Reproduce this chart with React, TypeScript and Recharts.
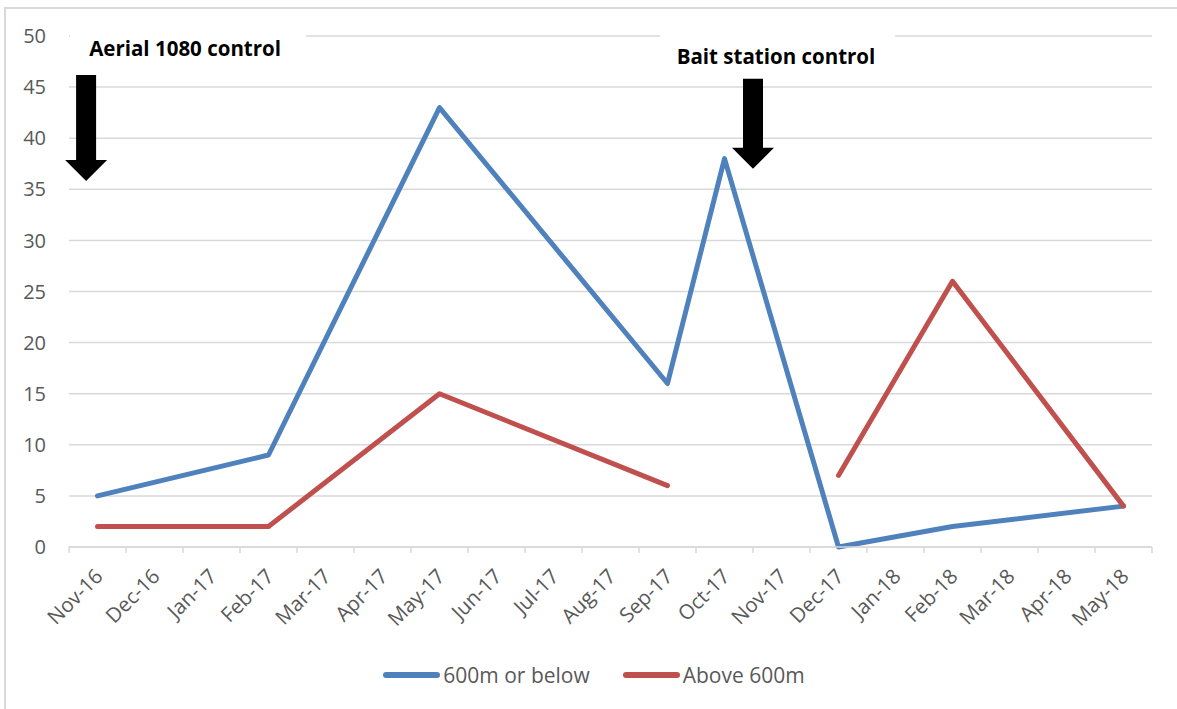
import React from "react";
import {
  CartesianGrid,
  Legend,
  Line,
  LineChart,
  ReferenceDot,
  XAxis,
  YAxis,
} from "recharts";

// Monthly categories along the date axis
const months = [
  "Nov-16", "Dec-16", "Jan-17", "Feb-17", "Mar-17", "Apr-17", "May-17",
  "Jun-17", "Jul-17", "Aug-17", "Sep-17", "Oct-17", "Nov-17", "Dec-17",
  "Jan-18", "Feb-18", "Mar-18", "Apr-18", "May-18",
];

// Survey months and counts per altitude band
const surveyMonths = ["Nov-16", "Feb-17", "May-17", "Sep-17", "Oct-17", "Dec-17", "Feb-18", "May-18"];
const below600 = [5, 9, 43, 16, 38, 0, 2, 4];
const above600: (number | null)[] = [2, 2, 15, 6, null, 7, 26, 4];

const yTicks = [0, 5, 10, 15, 20, 25, 30, 35, 40, 45, 50];

// Control operations, positioned in month units along the axis
const aerialControlAt = 0.3;
const baitControlAt = 12;

const BLUE = "#4f81bd";
const RED = "#c0504d";
const GRID = "#d9d9d9";
const TEXT = "#595959";
const FONT = "'Open Sans', sans-serif";

const data = surveyMonths.map((m, i) => ({
  pos: months.indexOf(m) + 0.5,
  below: below600[i],
  above: above600[i],
}));

const centerTicks = months.map((_, i) => i + 0.5);

// Label sits in the middle of each month; tick marks go on the month boundaries
function MonthTick(props: any) {
  const { x, y, payload, index, width } = props;
  const half = (width ?? 1083) / months.length / 2;
  const label = months[Math.floor(payload.value)];
  const ax = x + 1;
  const ay = y + 25;
  const isLast = index === months.length - 1;
  return (
    <g>
      <line x1={x - half} x2={x - half} y1={y} y2={y + 6} stroke={GRID} strokeWidth={1.5} />
      {isLast && <line x1={x + half} x2={x + half} y1={y} y2={y + 6} stroke={GRID} strokeWidth={1.5} />}
      <text
        x={ax}
        y={ay}
        transform={`rotate(-45, ${ax}, ${ay})`}
        textAnchor="end"
        dominantBaseline="central"
        fontFamily={FONT}
        fontSize={20.5}
        fill={TEXT}
      >
        {label}
      </text>
    </g>
  );
}

// Down arrow with a caption above it; (cx, cy) is the arrow tip
function controlMarker(text: string, shaft: number, textDx: number, textDy: number, boxLeft: number, boxRight: number) {
  return (props: any) => {
    const { cx, cy } = props;
    const head = 21;
    const pts = [
      [cx, cy],
      [cx - 21, cy - head],
      [cx - 10, cy - head],
      [cx - 10, cy - head - shaft],
      [cx + 10, cy - head - shaft],
      [cx + 10, cy - head],
      [cx + 21, cy - head],
    ]
      .map((p) => p.join(","))
      .join(" ");
    return (
      <g>
        <rect x={cx + boxLeft} y={cy + textDy - 32} width={boxRight - boxLeft} height={26} fill="#fff" />
        <polygon points={pts} fill="#000" />
        <text
          x={cx + textDx}
          y={cy + textDy}
          textAnchor="middle"
          fontFamily={FONT}
          fontWeight={700}
          fontSize={20.5}
          fill="#000"
        >
          {text}
        </text>
      </g>
    );
  };
}

function renderLegend(props: any) {
  const { payload } = props;
  return (
    <div
      style={{
        display: "flex",
        justifyContent: "center",
        alignItems: "center",
        gap: 33,
        paddingLeft: 17,
        fontFamily: FONT,
        fontSize: 21,
        color: TEXT,
        height: 30,
      }}
    >
      {payload.map((entry: any) => (
        <span key={entry.value} style={{ display: "flex", alignItems: "center" }}>
          <span
            style={{
              display: "inline-block",
              width: 57,
              height: 6,
              borderRadius: 3,
              background: entry.color,
              marginRight: 3,
            }}
          />
          {entry.value}
        </span>
      ))}
    </div>
  );
}

export default function App() {
  return (
    <div style={{ position: "absolute", left: 0, top: 0, width: 1177, height: 709, background: "#fff", overflow: "hidden" }}>
      <div
        style={{
          position: "absolute",
          left: 4,
          top: 7,
          width: 1200,
          height: 720,
          border: `2px solid ${GRID}`,
        }}
      />
      <LineChart
        width={1177}
        height={709}
        data={data}
        margin={{ top: 36, right: 25, bottom: 19, left: 19 }}
        style={{ position: "absolute", left: 0, top: 0 }}
      >
        <CartesianGrid xAxisId="months" vertical={false} stroke={GRID} strokeWidth={1.5} />
        <XAxis
          xAxisId="months"
          type="number"
          dataKey="pos"
          domain={[0, months.length]}
          ticks={centerTicks}
          interval={0}
          axisLine={{ stroke: GRID, strokeWidth: 1.5 }}
          tickLine={false}
          tickSize={0}
          tickMargin={0}
          height={113}
          tick={<MonthTick />}
        />
        <YAxis
          domain={[0, 50]}
          ticks={yTicks}
          interval={0}
          width={50}
          axisLine={false}
          tickLine={false}
          tickSize={0}
          tickMargin={23}
          tick={{ fill: TEXT, fontSize: 20, fontFamily: FONT }}
        />
        <Legend verticalAlign="bottom" height={30} content={renderLegend} />
        <ReferenceDot
          xAxisId="months"
          x={aerialControlAt}
          y={35.8}
          r={0}
          shape={controlMarker("Aerial 1080 control", 85, 99, -125, -16, 220)}
        />
        <ReferenceDot
          xAxisId="months"
          x={baitControlAt}
          y={37}
          r={0}
          shape={controlMarker("Bait station control", 69, 23, -105, -93, 142)}
        />
        <Line
          xAxisId="months"
          dataKey="below"
          name="600m or below"
          stroke={BLUE}
          strokeWidth={5}
          strokeLinejoin="round"
          strokeLinecap="round"
          dot={false}
          activeDot={false}
          isAnimationActive={false}
        />
        <Line
          xAxisId="months"
          dataKey="above"
          name="Above 600m"
          stroke={RED}
          strokeWidth={5}
          strokeLinejoin="round"
          strokeLinecap="round"
          dot={false}
          activeDot={false}
          connectNulls={false}
          isAnimationActive={false}
        />
      </LineChart>
    </div>
  );
}
